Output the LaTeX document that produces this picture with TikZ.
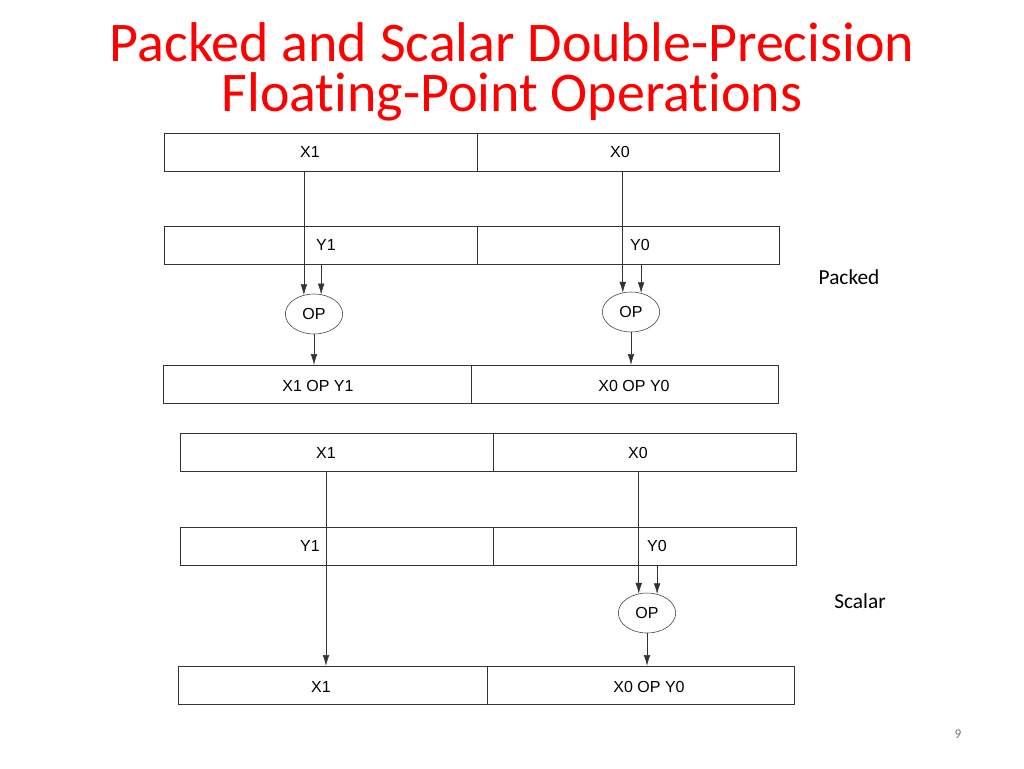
\documentclass[tikz,border=0pt]{standalone}
\usepackage{fontspec}
\setmainfont[Ligatures=NoCommon]{Carlito}
\newfontfamily\boxfont{Liberation Sans}
\usetikzlibrary{arrows.meta,positioning,shapes.geometric}
\tikzset{
  cell/.style={draw=black!80,minimum height=28.5pt,inner sep=0pt},
  lbl/.style={font=\boxfont\fontsize{12}{14}\selectfont,inner sep=0pt},
  opnode/.style={draw=black!80,ellipse,minimum width=43pt,minimum height=30pt,inner sep=0pt,font=\boxfont\fontsize{12}{14}\selectfont},
  flow/.style={draw=black!80,-{Latex[length=8pt,width=5pt]}}
}
\begin{document}
\begin{tikzpicture}[x=0.75pt,y=-0.75pt]
\useasboundingbox (0,0) rectangle (1024,768);
% title
\node[text=red,font=\fontsize{42}{46}\selectfont] (t1) at (512,42) {Packed and Scalar Double-Precision};
\node[text=red,font=\fontsize{42}{46}\selectfont] (t2) at (512,97) {Floating-Point Operations};
% packed
\node[cell,minimum width=234.75pt] (px1) at (320.5,152) {};
\node[cell,minimum width=226.5pt] (px0) at (628,152) {};
\node[cell,minimum width=234.75pt] (py1) at (320.5,245) {};
\node[cell,minimum width=226.5pt] (py0) at (628,245) {};
\node[opnode] (pop1) at (314,314) {OP};
\node[opnode] (pop0) at (631,312) {OP};
\node[cell,minimum width=231pt] (pr1) at (317,384) {};
\node[cell,minimum width=230.25pt] (pr0) at (624.5,384) {};
\node[lbl] (tpx1) at (310,152) {X1};
\node[lbl] (tpx0) at (620,152) {X0};
\node[lbl] (tpy1) at (326,245) {Y1};
\node[lbl] (tpy0) at (640,245) {Y0};
\node[lbl] (tpr1) at (318,386) {X1 OP Y1};
\node[lbl] (tpr0) at (634,386) {X0 OP Y0};
\draw[flow] (pop1.118 |- px1.south) -- (pop1.118);
\draw[flow] (pop1.70 |- py1.south) -- (pop1.70);
\draw[flow] (pop0.113 |- px0.south) -- (pop0.113);
\draw[flow] (pop0.62 |- py0.south) -- (pop0.62);
\draw[flow] (pop1.south) -- (pop1.south |- pr1.north);
\draw[flow] (pop0.south) -- (pop0.south |- pr0.north);
\node[font=\fontsize{16}{19}\selectfont] (lpk) at (849,277) {Packed};
% scalar
\node[cell,minimum width=234.75pt] (sx1) at (336.5,452) {};
\node[cell,minimum width=227.25pt] (sx0) at (644.5,452) {};
\node[cell,minimum width=234.75pt] (sy1) at (336.5,546) {};
\node[cell,minimum width=227.25pt] (sy0) at (644.5,546) {};
\node[opnode] (sop0) at (647,613) {OP};
\node[cell,minimum width=231.75pt] (sr1) at (332.5,685) {};
\node[cell,minimum width=230.25pt] (sr0) at (640.5,685) {};
\node[lbl] (tsx1) at (326,453) {X1};
\node[lbl] (tsx0) at (638,453) {X0};
\node[lbl] (tsy1) at (310,546) {Y1};
\node[lbl] (tsy0) at (657,546) {Y0};
\node[lbl] (tsr1) at (321,687) {X1};
\node[lbl] (tsr0) at (649,687) {X0 OP Y0};
\draw[flow] (sx1.south -| 326,0) -- (sr1.north -| 326,0);
\draw[flow] (sop0.113 |- sx0.south) -- (sop0.113);
\draw[flow] (sop0.62 |- sy0.south) -- (sop0.62);
\draw[flow] (sop0.south) -- (sop0.south |- sr0.north);
\node[font=\fontsize{16}{19}\selectfont] (lsc) at (860,601) {Scalar};
\node[text=black!55,font=\fontsize{10}{12}\selectfont] (pg) at (958,734) {9};
\end{tikzpicture}
\end{document}
